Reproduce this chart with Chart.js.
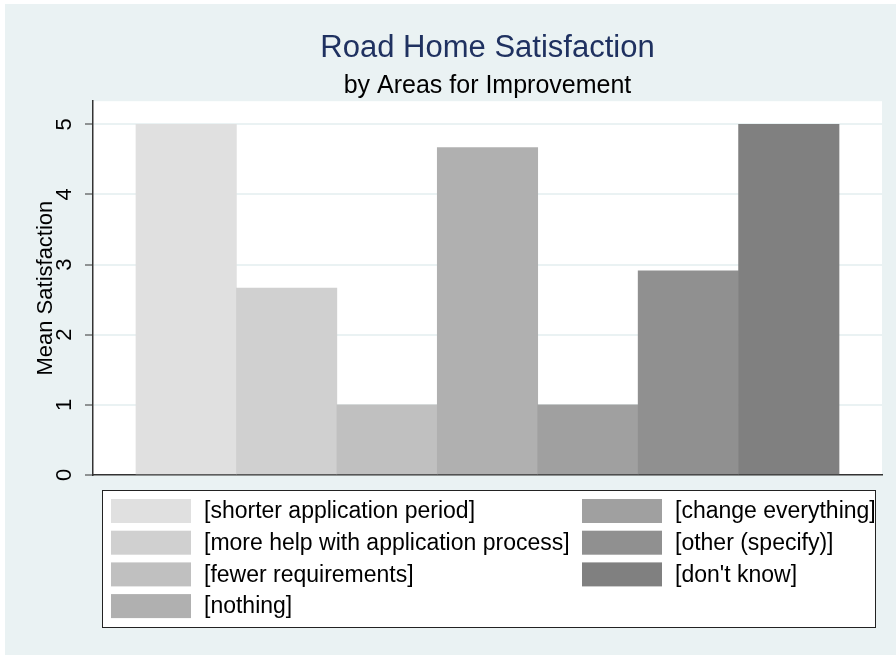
<!DOCTYPE html>
<html>
<head>
<meta charset="utf-8">
<script src="https://cdn.jsdelivr.net/npm/chart.js@4.4.0/dist/chart.umd.min.js"></script>
<style>
  html, body { margin: 0; padding: 0; background: #ffffff; }
  #wrap { width: 896px; height: 655px; }
</style>
</head>
<body>
<div id="wrap"><canvas id="satChart" width="896" height="655"></canvas></div>
<script>
// data
const categories = [
    '[shorter application period]',
    '[more help with application process]',
    '[fewer requirements]',
    '[nothing]',
    '[change everything]',
    '[other (specify)]',
    "[don't know]"
];
const meanSatisfaction = [5, 2.667, 1, 4.667, 1, 2.91, 5];
const barColors = ['#e0e0e0', '#d0d0d0', '#c0c0c0', '#b0b0b0', '#a0a0a0', '#909090', '#808080'];
const yTicks = [0, 1, 2, 3, 4, 5];

const bgColor = '#eaf2f3';
const fontFamily = '"Liberation Sans", Arial, sans-serif';

// page background + white plot region
const backgroundPlugin = {
    id: 'stataBackground',
    beforeDraw(chart) {
        const ctx = chart.ctx;
        const a = chart.chartArea;
        ctx.save();
        ctx.fillStyle = '#ffffff';
        ctx.fillRect(0, 0, chart.width, chart.height);
        ctx.fillStyle = bgColor;
        ctx.fillRect(5, 4, chart.width - 5, chart.height - 4);
        ctx.fillStyle = '#ffffff';
        ctx.fillRect(a.left, a.top, a.right - a.left, a.bottom - a.top);
        ctx.restore();
    }
};

// boxed two-column legend below the plot (filled column by column)
const boxLegendPlugin = {
    id: 'boxLegend',
    afterDraw(chart) {
        const ctx = chart.ctx;
        const a = chart.chartArea;
        const boxX = a.left + 9, boxY = a.bottom + 15, boxW = 773, boxH = 137;
        const rows = 4, rowH = 31.7, colW = 471;
        ctx.save();
        ctx.fillStyle = '#ffffff';
        ctx.fillRect(boxX, boxY, boxW, boxH);
        ctx.strokeStyle = '#222222';
        ctx.lineWidth = 1;
        ctx.strokeRect(boxX + 0.5, boxY + 0.5, boxW, boxH);
        ctx.font = '23px ' + fontFamily;
        ctx.textBaseline = 'middle';
        ctx.textAlign = 'left';
        categories.forEach((label, i) => {
            const col = Math.floor(i / rows);
            const row = i % rows;
            const sx = boxX + 9 + col * colW;
            const sy = boxY + 9 + row * rowH;
            ctx.fillStyle = barColors[i];
            ctx.fillRect(sx, sy, 80, 24);
            ctx.fillStyle = '#000000';
            ctx.fillText(label, sx + 93, sy + 13);
        });
        ctx.restore();
    }
};

const ctx = document.getElementById('satChart').getContext('2d');
new Chart(ctx, {
    type: 'bar',
    data: {
        datasets: [{
            data: meanSatisfaction.map((v, i) => ({ x: i + 1, y: v })),
            backgroundColor: barColors,
            borderWidth: 0,
            barPercentage: 1,
            categoryPercentage: 1
        }]
    },
    options: {
        responsive: false,
        animation: false,
        layout: { padding: { left: 0, right: 14, top: 0, bottom: 180 } },
        plugins: {
            legend: { display: false },
            tooltip: { enabled: false },
            title: {
                display: true,
                text: 'Road Home Satisfaction',
                fullSize: false,
                color: '#1f3160',
                font: { family: fontFamily, size: 31, weight: 'normal' },
                padding: { top: 30, bottom: 0 }
            },
            subtitle: {
                display: true,
                text: 'by Areas for Improvement',
                fullSize: false,
                color: '#000000',
                font: { family: fontFamily, size: 25, weight: 'normal', lineHeight: 1 },
                padding: { top: 6, bottom: 3 }
            }
        },
        scales: {
            x: {
                type: 'linear',
                offset: false,
                min: 0.072,
                max: 7.928,
                afterBuildTicks(scale) {
                    scale.ticks = categories.map((c, i) => ({ value: i + 1 }));
                },
                ticks: { display: false },
                grid: { display: false, drawTicks: false, offset: false },
                border: { display: true, color: '#333333', width: 1.5 },
                afterFit(scale) { scale.height = 0; }
            },
            y: {
                min: 0,
                max: 5.33,
                afterBuildTicks(scale) {
                    scale.ticks = yTicks.map(v => ({ value: v }));
                },
                ticks: {
                    minRotation: 90,
                    maxRotation: 90,
                    crossAlign: 'center',
                    padding: 14,
                    color: '#000000',
                    font: { family: fontFamily, size: 22 }
                },
                grid: {
                    color: bgColor,
                    lineWidth: 2,
                    tickColor: '#333333',
                    tickLength: 8,
                    tickWidth: 1
                },
                border: { display: true, color: '#333333', width: 1.5 },
                title: {
                    display: true,
                    text: 'Mean Satisfaction',
                    color: '#000000',
                    font: { family: fontFamily, size: 22 },
                    padding: { top: 33, bottom: 0 }
                },
                afterFit(scale) { scale.width = 93; }
            }
        }
    },
    plugins: [backgroundPlugin, boxLegendPlugin]
});
</script>
</body>
</html>
